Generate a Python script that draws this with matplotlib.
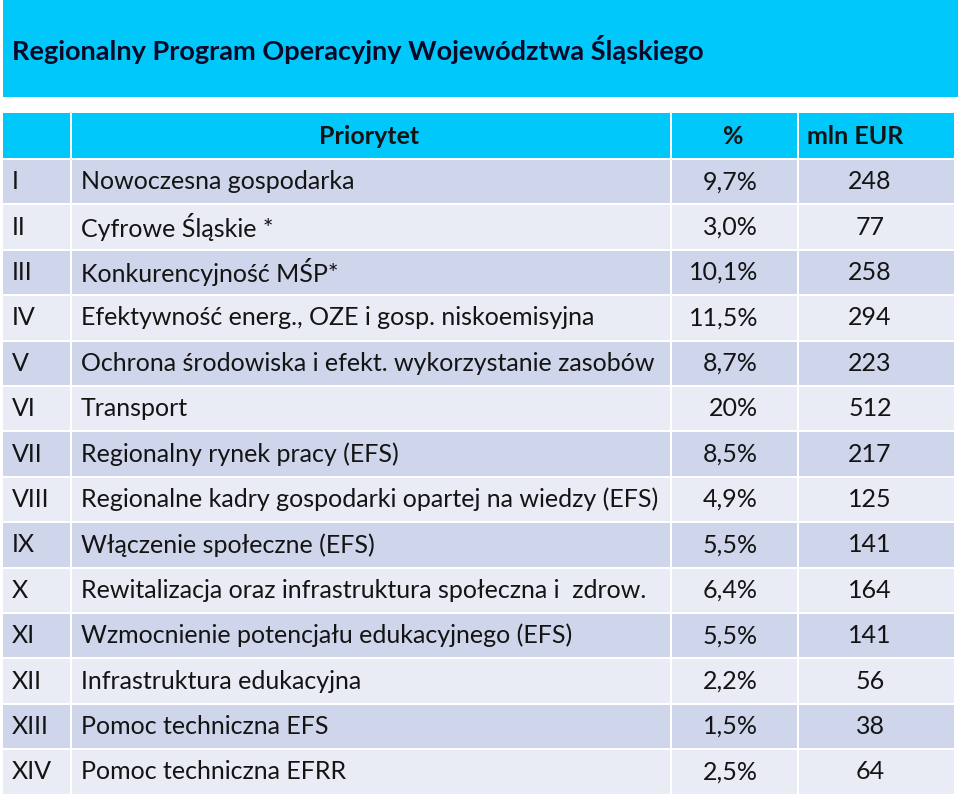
import matplotlib.pyplot as plt
from matplotlib.patches import Rectangle

plt.rcParams['font.family'] = ['Lato', 'DejaVu Sans']

title = 'Regionalny Program Operacyjny Województwa Śląskiego'
headers = ['', 'Priorytet', '%', 'mln EUR']

numerals = ['I', 'II', 'III', 'IV', 'V', 'VI', 'VII', 'VIII', 'IX', 'X',
            'XI', 'XII', 'XIII', 'XIV']
priorities = [
    'Nowoczesna gospodarka',
    'Cyfrowe Śląskie *',
    'Konkurencyjność MŚP*',
    'Efektywność energ., OZE i gosp. niskoemisyjna',
    'Ochrona środowiska i efekt. wykorzystanie zasobów',
    'Transport',
    'Regionalny rynek pracy (EFS)',
    'Regionalne kadry gospodarki opartej na wiedzy (EFS)',
    'Włączenie społeczne (EFS)',
    'Rewitalizacja oraz infrastruktura społeczna i  zdrow.',
    'Wzmocnienie potencjału edukacyjnego (EFS)',
    'Infrastruktura edukacyjna',
    'Pomoc techniczna EFS',
    'Pomoc techniczna EFRR',
]
percents = ['9,7%', '3,0%', '10,1%', '11,5%', '8,7%', '20%', '8,5%', '4,9%',
            '5,5%', '6,4%', '5,5%', '2,2%', '1,5%', '2,5%']
mln_eur = [248, 77, 258, 294, 223, 512, 217, 125, 141, 164, 141, 56, 38, 64]

cyan = '#00c8fa'
dark_row = '#cfd5ea'
light_row = '#e9ebf5'
ink = '#141414'

fig = plt.figure(figsize=(9.6, 7.94), dpi=100)
ax = fig.add_axes([0, 0, 1, 1])
ax.set_xlim(0, 960)
ax.set_ylim(794, 0)
ax.axis('off')

# title banner
ax.add_patch(Rectangle((3, 0), 955, 97, color=cyan, lw=0))
ax.text(12, 50, title, fontsize=19.5, fontweight='bold', color='#0a0a28',
        va='center', ha='left')

# column edges
col_x = [3, 70, 670, 797, 954]
gap = 2
row_h = 45.4
top = 113

def row_box(y0, h, fc):
    for c in range(4):
        ax.add_patch(Rectangle((col_x[c] + (gap if c else 0), y0),
                               col_x[c + 1] - col_x[c] - (gap if c else 0),
                               h, color=fc, lw=0))

# header
row_box(top, 45, cyan)
hy = top + 23
ax.text(369, hy, headers[1], fontsize=18, fontweight='bold', ha='center', va='center', color=ink)
ax.text(733, hy, headers[2], fontsize=18, fontweight='bold', ha='center', va='center', color=ink)
ax.text(807, hy, headers[3], fontsize=18, fontweight='bold', ha='left', va='center', color=ink)

# data rows
fs = 18
for i in range(len(numerals)):
    y0 = top + 47 + i * row_h
    row_box(y0, row_h - gap, dark_row if i % 2 == 0 else light_row)
    yc = y0 + (row_h - gap) / 2
    ax.text(12, yc, numerals[i], fontsize=fs, ha='left', va='center', color=ink)
    ax.text(81, yc, priorities[i], fontsize=fs, ha='left', va='center', color=ink)
    ax.text(758, yc, percents[i], fontsize=fs, ha='right', va='center', color=ink)
    ax.text(870, yc, str(mln_eur[i]), fontsize=fs, ha='center', va='center', color=ink)

fig.savefig('out.png', dpi=100, facecolor='white')
